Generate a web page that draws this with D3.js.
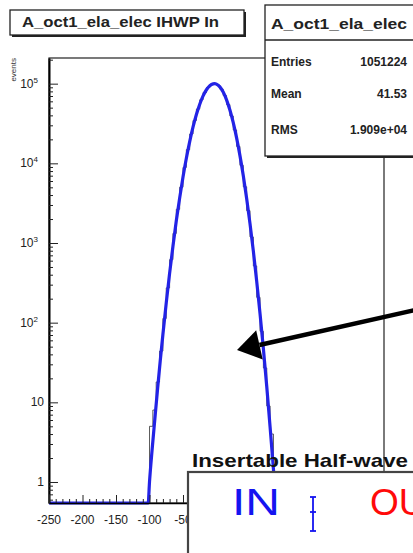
<!DOCTYPE html>
<html>
<head>
<meta charset="utf-8">
<script src="https://cdn.jsdelivr.net/npm/d3@7"></script>
<style>
	body { margin: 0; background: #fff; overflow: hidden; }
	svg text { font-family: "Liberation Sans", Arial, sans-serif; }
</style>
</head>
<body>
<svg id="Canvas" width="413" height="553"></svg>
<script>
// histogram bins (lower edge, width 5) and counts
var binLow = [-100,-95,-90,-85,-80,-75,-70,-65,-60,-55,-50,-45,-40,-35,-30,-25,-20,-15,-10,-5,
	0,5,10,15,20,25,30,35,40,45,50,55,60,65,70,75,80,85];
var binCounts = [5,8,18,44,113,273,618,1318,2650,5010,8890,14860,23340,34500,48000,62800,77300,89500,97500,99900,
	95700,85300,70800,54600,39300,26200,16300,9440,5080,2550,1190,515,208,78,27,9,4,1];

// gaussian fit curve
var fitX = [-250,-102,-100,-96,-92,-88,-84,-80,-75,-70,-65,-60,-55,-50,-45,-40,-35,-30,-25,-20,-15,-10,-5,-3,
	0,5,10,15,20,25,30,35,40,45,50,55,60,65,70,75,80,84,87,89,250];
var fitY = [0.54,0.54,1.0,2.6,6.2,14.6,33,71,177,415,910,1900,3660,6750,11570,18700,28600,41000,55300,70300,83900,94200,99500,100000,
	98700,91200,78400,62700,46700,32400,20900,12500,6980,3630,1750,790,330,129,47,15.8,4.9,1.86,0.87,0.54,0.54];

// only the labels left of the inset show in the picture
var xTickLabels = [-250,-200,-150,-100,-50];
var yTickLabels = [1,10,100,1000,10000,100000];

var histTitle = "A_oct1_ela_elec IHWP In";
var statsName = "A_oct1_ela_elec";
var statsLabels = ["Entries","Mean","RMS"];
var statsValues = ["1051224","41.53","1.909e+04"];

var svg = d3.select("#Canvas"),
	frame = {left: 49, right: 384, top: 58, bottom: 503};

var x = d3.scaleLinear().domain([-250, 250]).range([frame.left, frame.right]);
var y = d3.scaleLog().domain([0.545, 2.1e5]).range([frame.bottom, frame.top]).clamp(true);

DrawFrame();
DrawHistogram();
DrawFit();
DrawAxes();
DrawTitleBox();
DrawStatsBox();
DrawArrow();
DrawInset();

/*
 * plot frame
 */
function DrawFrame(){
	svg.append("rect")
		.attr("x", frame.left).attr("y", frame.top)
		.attr("width", frame.right - frame.left).attr("height", frame.bottom - frame.top)
		.attr("fill", "#fff").attr("stroke", "#222").attr("stroke-width", 1.2);
}

/*
 * black histogram steps
 */
function DrawHistogram(){
	var pts = [];
	binLow.forEach(function(lo, i){
		pts.push([lo, binCounts[i]]);
		pts.push([lo + 5, binCounts[i]]);
	});
	var line = d3.line()
		.x(function(d){ return x(d[0]); })
		.y(function(d){ return y(d[1]); });
	var all = [[binLow[0], 0.5]].concat(pts).concat([[binLow[binLow.length-1] + 5, 0.5]]);
	svg.append("path")
		.attr("d", line(all))
		.attr("fill", "none").attr("stroke", "#333").attr("stroke-width", 0.8);
}

/*
 * blue fit
 */
function DrawFit(){
	var line = d3.line()
		.x(function(d, i){ return x(fitX[i]); })
		.y(function(d){ return y(d); })
		.curve(d3.curveMonotoneX);
	svg.append("path")
		.attr("d", line(fitY))
		.attr("fill", "none").attr("stroke", "#2323e6").attr("stroke-width", 3.2);
}

function DrawAxes(){
	// y axis, major + minor ticks pointing in
	var yAx = svg.append("g").attr("transform", "translate(" + frame.left + ",0)");
	yAx.call(d3.axisLeft(y).tickValues(y.ticks()).tickSize(-4).tickSizeOuter(0).tickFormat(""));
	yAx.selectAll(".tick line").filter(function(d){ return yTickLabels.indexOf(d) >= 0; }).attr("x2", 9);
	yAx.select(".domain").attr("stroke-width", 2);
	yAx.selectAll("line").attr("stroke", "#222");

	var yl = svg.append("g").selectAll("text").data(yTickLabels).enter().append("text")
		.attr("x", function(d){ return d >= 100 ? 38 : 44; })
		.attr("y", function(d){ return y(d) + 4; })
		.attr("text-anchor", "end")
		.attr("font-size", 12).attr("fill", "#222");
	yl.each(function(d){
		var t = d3.select(this);
		if(d == 1){ t.text("1"); return; }
		if(d == 10){ t.text("10"); return; }
		t.append("tspan").text("10");
		t.append("tspan").attr("font-size", 8).attr("dy", -5).text(Math.round(Math.log10(d)));
	});

	// y title
	svg.append("text")
		.attr("transform", "translate(16,58) rotate(-90)")
		.attr("text-anchor", "end")
		.attr("font-size", 8).attr("fill", "#333")
		.text("events");

	// x axis ticks pointing up
	var xAx = svg.append("g").attr("transform", "translate(0," + frame.bottom + ")");
	xAx.call(d3.axisBottom(x).tickValues(x.ticks(50)).tickSize(-4).tickSizeOuter(0).tickFormat(""));
	xAx.selectAll(".tick line").filter(function(d){ return d % 50 == 0; }).attr("y2", -8);
	xAx.select(".domain").attr("stroke-width", 1.5);
	xAx.selectAll("line").attr("stroke", "#222");

	svg.append("g").selectAll("text").data(xTickLabels).enter().append("text")
		.attr("x", function(d){ return x(d); })
		.attr("y", 524)
		.attr("text-anchor", "middle")
		.attr("font-size", 12).attr("fill", "#222")
		.text(function(d){ return d; });
}

/*
 * boxes with ROOT style shadow
 */
function ShadowBox(x0, y0, w, h){
	svg.append("rect").attr("x", x0 + 2).attr("y", y0 + 2).attr("width", w).attr("height", h).attr("fill", "#222");
	svg.append("rect").attr("x", x0).attr("y", y0).attr("width", w).attr("height", h)
		.attr("fill", "#fff").attr("stroke", "#222").attr("stroke-width", 1.3);
}

function DrawTitleBox(){
	ShadowBox(10, 10, 234, 25);
	svg.append("text")
		.attr("x", 22).attr("y", 27)
		.attr("font-size", 15).attr("font-weight", "bold").attr("fill", "#222")
		.attr("textLength", 197).attr("lengthAdjust", "spacingAndGlyphs")
		.text(histTitle);
}

function DrawStatsBox(){
	ShadowBox(265, 5, 160, 151);
	svg.append("line").attr("x1", 265).attr("x2", 425).attr("y1", 40).attr("y2", 40)
		.attr("stroke", "#222").attr("stroke-width", 1.3);
	svg.append("text")
		.attr("x", 271).attr("y", 29)
		.attr("font-size", 15).attr("font-weight", "bold").attr("fill", "#222")
		.attr("textLength", 136).attr("lengthAdjust", "spacingAndGlyphs")
		.text(statsName);
	var rows = [66, 98, 134];
	statsLabels.forEach(function(lab, i){
		svg.append("text").attr("x", 271).attr("y", rows[i])
			.attr("font-size", 12).attr("font-weight", "bold").attr("fill", "#222")
			.text(lab);
		svg.append("text").attr("x", 407).attr("y", rows[i])
			.attr("text-anchor", "end")
			.attr("font-size", 12).attr("font-weight", "bold").attr("fill", "#222")
			.text(statsValues[i]);
	});
}

function DrawArrow(){
	var tip = [237, 350], tail = [420, 309];
	var dx = tail[0] - tip[0], dy = tail[1] - tip[1], len = Math.sqrt(dx*dx + dy*dy);
	var ux = dx / len, uy = dy / len, hl = 23, hw = 15;
	var bx = tip[0] + ux * hl, by = tip[1] + uy * hl;
	svg.append("line")
		.attr("x1", bx).attr("y1", by).attr("x2", tail[0]).attr("y2", tail[1])
		.attr("stroke", "#000").attr("stroke-width", 4.5);
	svg.append("path")
		.attr("d", "M" + tip + "L" + [bx - uy*hw, by + ux*hw] + "L" + [bx + uy*hw, by - ux*hw] + "Z")
		.attr("fill", "#000");
}

/*
 * half-wave plate legend inset
 */
function DrawInset(){
	svg.append("rect").attr("x", 188).attr("y", 472).attr("width", 240).attr("height", 100)
		.attr("fill", "#fff").attr("stroke", "#444").attr("stroke-width", 2.2);
	svg.append("text")
		.attr("x", 192).attr("y", 467)
		.attr("font-size", 19).attr("font-weight", "bold").attr("fill", "#111")
		.attr("textLength", 216).attr("lengthAdjust", "spacingAndGlyphs")
		.text("Insertable Half-wave");
	svg.append("text")
		.attr("x", 232).attr("y", 515)
		.attr("font-family", "DejaVu Sans Mono").attr("font-size", 37).attr("fill", "#1414f0")
		.attr("textLength", 48).attr("lengthAdjust", "spacingAndGlyphs")
		.text("IN");
	svg.append("text")
		.attr("x", 370).attr("y", 515)
		.attr("font-family", "DejaVu Sans Mono").attr("font-size", 37).attr("fill", "#ff0a0a")
		.text("OUT");
	var eb = svg.append("g").attr("stroke", "#1414f0").attr("stroke-width", 1.8);
	eb.append("line").attr("x1", 313).attr("x2", 313).attr("y1", 497).attr("y2", 531);
	eb.append("line").attr("x1", 310).attr("x2", 316).attr("y1", 497).attr("y2", 497);
	eb.append("line").attr("x1", 310).attr("x2", 316).attr("y1", 531).attr("y2", 531);
	eb.append("line").attr("x1", 310).attr("x2", 316).attr("y1", 512).attr("y2", 512);
}
</script>
</body>
</html>
